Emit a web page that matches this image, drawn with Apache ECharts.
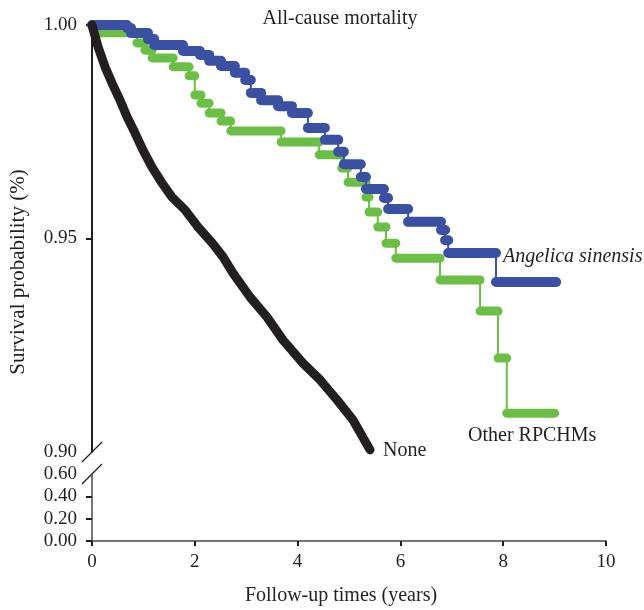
<!DOCTYPE html>
<html><head><meta charset="utf-8">
<script src="https://cdn.jsdelivr.net/npm/echarts@6/dist/echarts.min.js"></script>
<style>html,body{margin:0;padding:0;background:#fff}#c{width:644px;height:610px}</style>
</head><body><div id="c"></div>
<script>
// ---- data ----
const xTickValues = [0, 2, 4, 6, 8, 10];
const upperYTicks = [0.90, 0.95, 1.00];
const lowerYTicks = [0.00, 0.20, 0.40, 0.60];

// None (no RPCHM use): dense KM curve
const noneTimes = [0, 0.117, 0.253, 0.389, 0.545, 0.681, 0.837, 0.992, 1.167, 1.362, 1.556, 1.809, 2.062, 2.335, 2.549, 2.743, 3.074, 3.405, 3.716, 4.105, 4.436, 4.767, 5.078, 5.409];
const noneSurv  = [1.0, 0.9949, 0.9902, 0.9864, 0.9824, 0.9785, 0.9747, 0.9707, 0.9667, 0.9630, 0.9597, 0.9567, 0.9527, 0.9490, 0.9457, 0.9419, 0.9363, 0.9316, 0.9262, 0.9208, 0.9169, 0.9122, 0.9075, 0.9005];

// Angelica sinensis: step times and survival after each step
const angelicaTimes = [0, 0.68, 0.76, 1.09, 1.21, 1.77, 2.10, 2.28, 2.51, 2.78, 2.98, 3.09, 3.29, 3.62, 3.89, 4.20, 4.53, 4.79, 4.90, 5.23, 5.33, 5.68, 5.76, 6.15, 6.79, 6.87, 6.93, 7.86];
const angelicaSurv  = [1.0, 0.9993, 0.9981, 0.9967, 0.9953, 0.9939, 0.9930, 0.9916, 0.9904, 0.9888, 0.9871, 0.9841, 0.9824, 0.9810, 0.9794, 0.9759, 0.9731, 0.9703, 0.9674, 0.9644, 0.9616, 0.9595, 0.9569, 0.9539, 0.9520, 0.9496, 0.9466, 0.9398];
const angelicaEnd = 9.03;

// Other RPCHMs
const otherTimes = [0, 0.05, 0.875, 1.03, 1.17, 1.58, 1.89, 2.00, 2.12, 2.28, 2.51, 2.70, 3.68, 4.42, 4.86, 4.98, 5.33, 5.39, 5.56, 5.72, 5.91, 6.77, 7.55, 7.90, 8.07];
const otherSurv  = [1.0, 0.9982, 0.9958, 0.9941, 0.9923, 0.9902, 0.9881, 0.9836, 0.9817, 0.9794, 0.9775, 0.9752, 0.9726, 0.9696, 0.9665, 0.9632, 0.9597, 0.9562, 0.9527, 0.9489, 0.9454, 0.9403, 0.9330, 0.9220, 0.9091];
const otherEnd = 9.0;

// ---- styling ----
const FONT = '"Liberation Serif", "DejaVu Serif", serif';
const TXT = '#231f20';
const BLUE = '#3a50a2';
const GREEN = '#6bbf47';
const BLACK = '#231f20';

function stepItems(times, surv, end) {
  return times.map((t, i) => [
    t,
    i + 1 < times.length ? times[i + 1] : end,
    surv[i],
    i + 1 < times.length ? surv[i + 1] : surv[i]
  ]);
}
function makeRender(color, thick) {
  return function (params, api) {
    const t0 = api.value(0), t1 = api.value(1), s0 = api.value(2), s1 = api.value(3);
    const a = api.coord([t0, s0]), b = api.coord([t1, s0]), c = api.coord([t1, s1]);
    const children = [];
    if (s1 !== s0) children.push({ type: 'line', shape: { x1: b[0], y1: b[1], x2: c[0], y2: c[1] }, style: { stroke: color, lineWidth: 2 } });
    children.push({ type: 'line', shape: { x1: a[0], y1: a[1], x2: b[0], y2: b[1] }, style: { stroke: color, lineWidth: thick, lineCap: 'round' } });
    return { type: 'group', children };
  };
}

const chart = echarts.init(document.getElementById('c'), null, { renderer: 'canvas' });
const fmt = v => v.toFixed(2);
const labelStyle = { color: TXT, fontFamily: FONT, fontSize: 19 };

chart.setOption({
  animation: false,
  backgroundColor: '#fff',
  grid: [
    { left: 92, right: 38, top: 25, height: 427 },
    { left: 92, right: 38, top: 474, height: 67 }
  ],
  xAxis: [
    { gridIndex: 0, type: 'value', min: 0, max: 10, show: false },
    { gridIndex: 1, type: 'value', min: 0, max: 10, interval: 2,
      axisLine: { lineStyle: { color: '#4a4a4a', width: 1.5 } },
      axisTick: { show: true, length: 5, lineStyle: { color: TXT, width: 2 } },
      axisLabel: Object.assign({ margin: 12, formatter: v => String(v) }, labelStyle),
      splitLine: { show: false } }
  ],
  yAxis: [
    { gridIndex: 0, type: 'value', min: 0.9, max: 1.0, interval: 0.05,
      axisLine: { show: true, lineStyle: { color: BLACK, width: 2 } },
      axisTick: { show: true, length: 6, customValues: [0.95, 1.0], lineStyle: { color: BLACK, width: 2 } },
      axisLabel: Object.assign({ margin: 15, formatter: fmt, customValues: upperYTicks }, labelStyle),
      splitLine: { show: false } },
    { gridIndex: 1, type: 'value', min: 0, max: 0.6, interval: 0.2,
      axisLine: { show: true, lineStyle: { color: '#4a4a4a', width: 1.5 } },
      axisTick: { show: true, length: 6, customValues: [0, 0.2, 0.4], lineStyle: { color: TXT, width: 2 } },
      axisLabel: Object.assign({ margin: 15, formatter: fmt, customValues: lowerYTicks }, labelStyle),
      splitLine: { show: false } }
  ],
  series: [
    { name: 'None', type: 'line', xAxisIndex: 0, yAxisIndex: 0,
      data: noneTimes.map((t, i) => [t, noneSurv[i]]),
      showSymbol: false, symbol: 'none', clip: false,
      lineStyle: { color: BLACK, width: 9, cap: 'round', join: 'round' } },
    { name: 'Other RPCHMs', type: 'custom', xAxisIndex: 0, yAxisIndex: 0, clip: false,
      data: stepItems(otherTimes, otherSurv, otherEnd),
      encode: { x: [0, 1], y: [2, 3] },
      renderItem: makeRender(GREEN, 9) },
    { name: 'Angelica sinensis', type: 'custom', xAxisIndex: 0, yAxisIndex: 0, clip: false,
      data: stepItems(angelicaTimes, angelicaSurv, angelicaEnd),
      encode: { x: [0, 1], y: [2, 3] },
      renderItem: makeRender(BLUE, 10) }
  ]
});

const pTop = chart.convertToPixel({ gridIndex: 0 }, [0, 0.9]);
const pBot = chart.convertToPixel({ gridIndex: 1 }, [0, 0.6]);
const slash = (p) => ({ type: 'line', shape: { x1: p[0] - 10, y1: p[1] + 10, x2: p[0] + 10, y2: p[1] - 10 }, style: { stroke: TXT, lineWidth: 1.3 } });
const txt = (text, x, y, opts) => ({ type: 'text', x, y, style: Object.assign({ text, fill: TXT, font: '20px ' + FONT, textAlign: 'left', textVerticalAlign: 'middle' }, opts || {}) });

chart.setOption({
  graphic: [
    slash(pTop), slash(pBot),
    txt('All-cause mortality', 340, 19, { textAlign: 'center' }),
    txt('Follow-up times (years)', 341, 596, { textAlign: 'center' }),
    { type: 'text', x: 18, y: 272, rotation: Math.PI / 2,
      style: { text: 'Survival probability (%)', fill: TXT, font: '21px ' + FONT, textAlign: 'center', textVerticalAlign: 'middle' } },
    txt('Angelica sinensis', 503, 257, { font: 'italic 20px ' + FONT }),
    txt('Other RPCHMs', 468, 436),
    txt('None', 383, 451)
  ]
});
</script></body></html>
